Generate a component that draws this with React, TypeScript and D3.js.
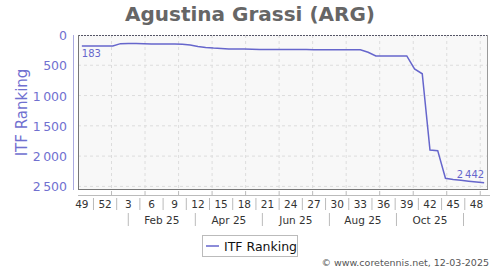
import React from "react";
import * as d3 from "d3";

const title = "Agustina Grassi (ARG)";
const seriesName = "ITF Ranking";
// weekly rankings, week 49 of 2024 .. week 49 of 2025
const weekLabels = [
  "49","50","51","52","1","2","3","4","5","6","7","8","9","10","11","12","13","14","15","16","17","18","19","20","21","22","23","24","25","26","27","28","29","30","31","32","33","34","35","36","37","38","39","40","41","42","43","44","45","46","47","48","49",
];
const rankings = [
  183, 183, 183, 183, 183, 143, 142, 141, 143, 148, 150, 150, 150, 152, 165, 190, 205, 215, 222, 230,
  232, 233, 236, 238, 238, 240, 240, 240, 241, 241, 242, 242, 242, 242, 242, 242, 245, 285, 345, 345,
  345, 345, 345, 560, 640, 1900, 1910, 2367, 2385, 2400, 2415, 2428, 2442,
];
const yTicks = [0, 500, 1000, 1500, 2000, 2500];
const monthLabels = ["Feb 25", "Apr 25", "Jun 25", "Aug 25", "Oct 25"];
const monthLabelIdx = [2, 4, 6, 8, 10]; // months after Dec 2024
const monthSeparatorIdx = [1, 3, 5, 7, 9, 11];
const footer = "© www.coretennis.net, 12-03-2025";

const W = 500, H = 270;
const L = 78, R = 488, T = 35, B = 190;
const blue = "#6666cc";
const font = "DejaVu Sans, Verdana, sans-serif";

const fmt = (v: number) => d3.format(",")(v).replace(/,/g, "\u202F");

export default function App() {
  const n = rankings.length;
  const x = d3.scaleLinear().domain([-0.5, n - 0.5]).range([L, R]);
  const y = d3.scaleLinear().domain([0, 2560]).range([T, B]);
  const wpm = (n - 1) / 12; // weeks per month
  const mx = (m: number) => x(-0.5 + m * wpm);
  const line = d3.line<number>().x((_, i) => x(i)).y((d) => y(d));
  const months = d3.range(1, 13);
  const labelIdx = d3.range(0, n - 1, 3);
  const last = n - 1;

  return (
    <svg width={W} height={H} style={{ position: "absolute", left: 0, top: 0, fontFamily: font }}>
      <rect x={0} y={0} width={W} height={H} fill="#fff" />
      <text x={250} y={21} textAnchor="middle" fontSize={20} fontWeight="bold" fill="#666">{title}</text>
      <rect x={L} y={T} width={R - L} height={B - T} fill="#f8f8f8" />
      {yTicks.slice(1).map((t) => (
        <line key={t} x1={L} x2={R} y1={y(t)} y2={y(t)} stroke="#ddd" strokeDasharray="3,3" />
      ))}
      {months.map((m) => (
        <line key={m} x1={mx(m)} x2={mx(m)} y1={T} y2={B} stroke="#ddd" strokeDasharray="3,3" />
      ))}
      <line x1={L} x2={R} y1={T + 0.5} y2={T + 0.5} stroke="#556" strokeDasharray="2,1" />
      <line x1={L + 0.5} x2={L + 0.5} y1={T} y2={B} stroke="#777" />
      <line x1={R - 0.5} x2={R - 0.5} y1={T} y2={B} stroke="#999" />
      <line x1={L} x2={R} y1={B - 0.5} y2={B - 0.5} stroke="#777" />
      <path d={line(rankings) || ""} fill="none" stroke={blue} strokeWidth={1.5} />
      <text x={x(0)} y={57} fontSize={10} fill={blue}>{fmt(rankings[0])}</text>
      <text x={x(last)} y={y(rankings[last]) - 5} textAnchor="end" fontSize={10} fill={blue}>{fmt(rankings[last])}</text>
      {/* y axis */}
      <line x1={73.5} x2={73.5} y1={T} y2={B} stroke="#aaaae0" />
      {yTicks.map((t) => (
        <text key={t} x={67} y={y(t) + 5} textAnchor="end" fontSize={12.5} fill="#7070d0">{fmt(t)}</text>
      ))}
      <text transform={`translate(27,${(T + B) / 2}) rotate(-90)`} textAnchor="middle" fontSize={15} fill="#7070d0">{seriesName}</text>
      {/* x axis */}
      <line x1={L} x2={490} y1={195.5} y2={195.5} stroke="#bbb" />
      {months.map((m) => (
        <line key={m} x1={mx(m)} x2={mx(m)} y1={191} y2={195} stroke="#bbb" />
      ))}
      {labelIdx.map((i) => (
        <text key={i} x={x(i)} y={208} textAnchor="middle" fontSize={10.5} fill="#333">{weekLabels[i]}</text>
      ))}
      {labelIdx.slice(0, -1).map((i) => (
        <line key={i} x1={x(i + 1.5)} x2={x(i + 1.5)} y1={198} y2={210} stroke="#bbb" />
      ))}
      {monthLabels.map((s, k) => (
        <text key={s} x={mx(monthLabelIdx[k] + 0.5)} y={224} textAnchor="middle" fontSize={10.5} fill="#333">{s}</text>
      ))}
      {monthSeparatorIdx.map((m) => (
        <line key={m} x1={mx(m + 0.5)} x2={mx(m + 0.5)} y1={213} y2={226} stroke="#bbb" />
      ))}
      {/* legend */}
      <rect x={202.5} y={235.5} width={95} height={21} fill="#fff" stroke="#bbb" />
      <line x1={206} x2={219} y1={246} y2={246} stroke={blue} strokeWidth={1.5} />
      <text x={224} y={250.5} fontSize={12.5} fill="#111">{seriesName}</text>
      <text x={489} y={266} textAnchor="end" fontSize={9.5} fill="#555">{footer}</text>
    </svg>
  );
}
